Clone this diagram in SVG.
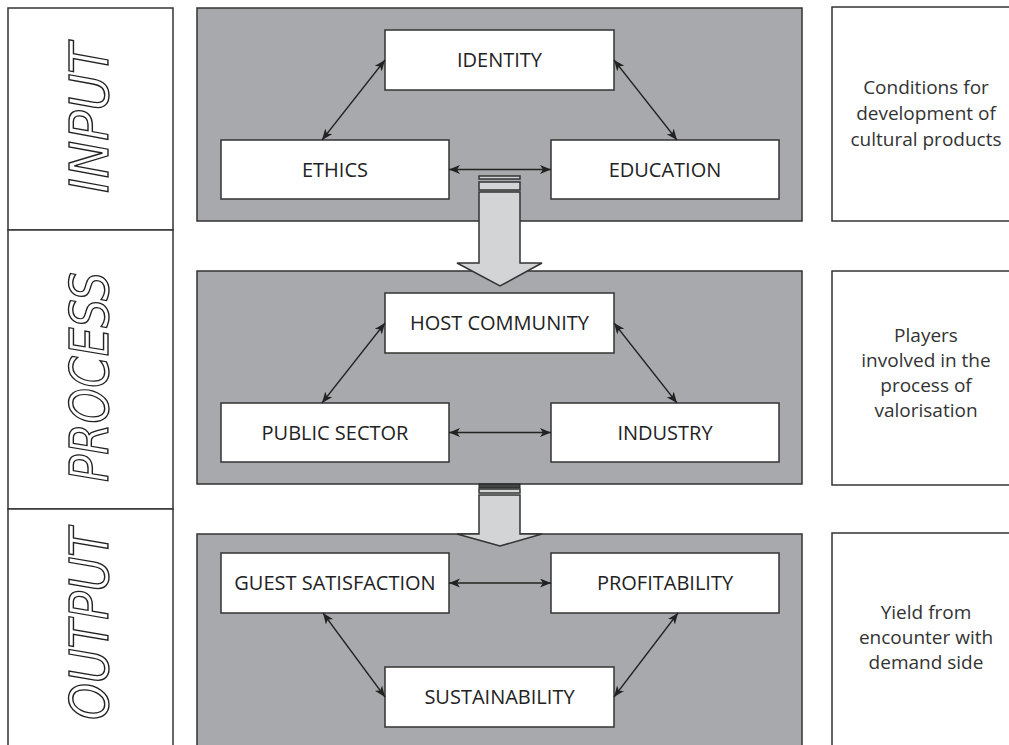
<svg xmlns="http://www.w3.org/2000/svg" width="1009" height="745" viewBox="0 0 1009 745">
<defs>
<style>
.col{fill:#fff;stroke:#333;stroke-width:1.5}
.panel{fill:#a8a9ac;stroke:#333;stroke-width:1.5}
.box{fill:#fff;stroke:#333;stroke-width:1.5}
.lbl{font-family:"Open Sans","Liberation Sans",sans-serif;font-size:20px;fill:#222;text-anchor:middle}
.side{font-family:"Open Sans","Liberation Sans",sans-serif;font-size:19px;fill:#333;text-anchor:middle}
.stage{font-family:"DejaVu Sans","Liberation Sans",sans-serif;font-style:oblique;font-size:53px;fill:#fff;stroke:#222;stroke-width:1.4;text-anchor:middle}
.con{stroke:#222;stroke-width:1.3;fill:none;marker-start:url(#ah);marker-end:url(#ah)}
.big{fill:#d3d4d6;stroke:#333;stroke-width:1.5}
</style>
<marker id="ah" markerUnits="userSpaceOnUse" markerWidth="12" markerHeight="10" refX="11" refY="4.5" orient="auto-start-reverse">
<path d="M0,0 L11,4.5 L0,9 L3,4.5 Z" fill="#222"/>
</marker>
</defs>

<g id="stage-column">
<rect class="col" x="8" y="8" width="165" height="222"/>
<rect class="col" x="8" y="230" width="165" height="279"/>
<rect class="col" x="8" y="509" width="165" height="250"/>
<text class="stage" transform="translate(108,118) rotate(-90)" textLength="150" lengthAdjust="spacingAndGlyphs">INPUT</text>
<text class="stage" transform="translate(108,377) rotate(-90)" textLength="210" lengthAdjust="spacingAndGlyphs">PROCESS</text>
<text class="stage" transform="translate(108,624) rotate(-90)" textLength="192" lengthAdjust="spacingAndGlyphs">OUTPUT</text>
</g>

<g id="descriptions">
<g id="desc-input">
<rect class="col" x="832" y="7" width="200" height="214"/>
<text class="side" x="926" y="94">Conditions for</text>
<text class="side" x="926" y="120">development of</text>
<text class="side" x="926" y="146">cultural products</text>
</g>
<g id="desc-process">
<rect class="col" x="832" y="271" width="200" height="214"/>
<text class="side" x="926" y="342">Players</text>
<text class="side" x="926" y="367">involved in the</text>
<text class="side" x="926" y="392">process of</text>
<text class="side" x="926" y="417">valorisation</text>
</g>
<g id="desc-output">
<rect class="col" x="832" y="533" width="200" height="230"/>
<text class="side" x="926" y="619">Yield from</text>
<text class="side" x="926" y="644">encounter with</text>
<text class="side" x="926" y="669">demand side</text>
</g>
</g>

<g id="panels">
<rect id="panel-input" class="panel" x="197" y="8" width="605" height="213"/>
<rect id="panel-process" class="panel" x="197" y="271" width="605" height="213"/>
<rect id="panel-output" class="panel" x="197" y="534" width="605" height="230"/>
</g>

<g id="flow-arrows">
<rect class="big" x="479" y="176" width="41" height="3"/>
<rect class="big" x="479" y="182" width="41" height="8"/>
<path class="big" d="M479,192 L520,192 L520,263 L542,263 L500,286 L457,263 L479,263 Z"/>
<rect x="479" y="484" width="41" height="4" fill="#444" stroke="#222" stroke-width="1"/>
<rect class="big" x="479" y="489" width="41" height="4"/>
<path class="big" d="M479,495 L520,495 L520,534 L542,534 L500,546 L457,534 L479,534 Z"/>
</g>

<g id="identity"><rect class="box" x="385" y="30" width="229" height="60"/><text class="lbl" x="499.5" y="67">IDENTITY</text></g>
<g id="ethics"><rect class="box" x="221" y="140" width="228" height="59"/><text class="lbl" x="335" y="176.5">ETHICS</text></g>
<g id="education"><rect class="box" x="551" y="140" width="228" height="59"/><text class="lbl" x="665" y="176.5">EDUCATION</text></g>

<g id="host-community"><rect class="box" x="385" y="293" width="229" height="60"/><text class="lbl" x="499.5" y="330">HOST COMMUNITY</text></g>
<g id="public-sector"><rect class="box" x="221" y="403" width="228" height="59"/><text class="lbl" x="335" y="439.5">PUBLIC SECTOR</text></g>
<g id="industry"><rect class="box" x="551" y="403" width="228" height="59"/><text class="lbl" x="665" y="439.5">INDUSTRY</text></g>

<g id="guest-satisfaction"><rect class="box" x="221" y="553" width="228" height="60"/><text class="lbl" x="335" y="590">GUEST SATISFACTION</text></g>
<g id="profitability"><rect class="box" x="551" y="553" width="228" height="60"/><text class="lbl" x="665" y="590">PROFITABILITY</text></g>
<g id="sustainability"><rect class="box" x="385" y="667" width="229" height="60"/><text class="lbl" x="499.5" y="704">SUSTAINABILITY</text></g>

<g id="connectors">
<line class="con" x1="449" y1="169.5" x2="551" y2="169.5"/>
<line class="con" x1="385" y1="60" x2="322" y2="140"/>
<line class="con" x1="614" y1="60" x2="677" y2="140"/>
<line class="con" x1="449" y1="432.5" x2="551" y2="432.5"/>
<line class="con" x1="385" y1="323" x2="322" y2="403"/>
<line class="con" x1="614" y1="323" x2="677" y2="403"/>
<line class="con" x1="449" y1="583" x2="551" y2="583"/>
<line class="con" x1="323" y1="613" x2="385" y2="697"/>
<line class="con" x1="678" y1="613" x2="614" y2="697"/>
</g>
</svg>
